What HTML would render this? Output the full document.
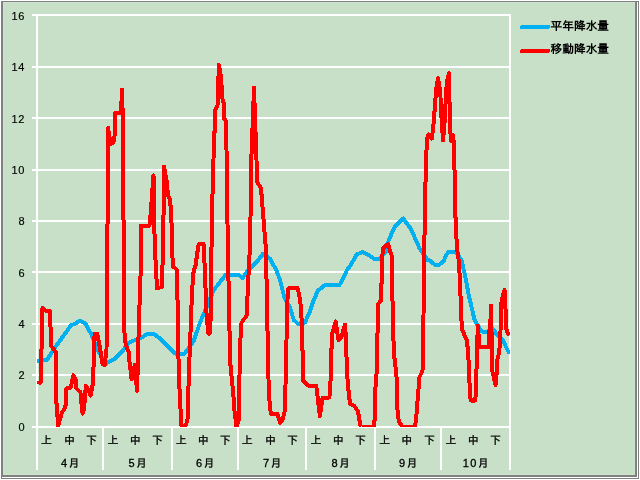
<!DOCTYPE html>
<html lang="ja"><head><meta charset="utf-8"><title>降水量</title>
<style>html,body{margin:0;padding:0;background:#fff;overflow:hidden}svg{display:block}text{font-family:"Liberation Sans","IPAGothic","Noto Sans CJK JP",sans-serif;font-size:12px;fill:#000}.j{font-family:"Liberation Sans","IPAGothic","Noto Sans CJK JP",sans-serif}text{stroke:#000;stroke-width:0.3px}.y{font-size:11px;letter-spacing:0.8px;stroke-width:.15px}.m{letter-spacing:1.4px;font-size:11px}.c{font-size:11px}.lg{font-weight:bold;font-size:11.7px;stroke:none}</style></head><body>
<svg width="640" height="480" viewBox="0 0 640 480">
<rect x="0" y="0" width="640" height="480" fill="#fff"/>
<rect x="1" y="1" width="638" height="478" fill="#808080"/>
<rect x="2" y="477" width="636" height="1" fill="#fff"/>
<rect x="637" y="2" width="1" height="476" fill="#fff"/>
<rect x="3" y="2" width="632" height="473" fill="#c8dfc8"/>
<rect x="3.5" y="2.5" width="631" height="472" fill="none" stroke="#cde5cd" stroke-width="1"/>
<g fill="#fff" shape-rendering="crispEdges">
<rect x="32" y="14" width="479" height="2"/>
<rect x="32" y="66" width="479" height="2"/>
<rect x="32" y="117" width="479" height="2"/>
<rect x="32" y="169" width="479" height="2"/>
<rect x="32" y="220" width="479" height="2"/>
<rect x="32" y="271" width="479" height="2"/>
<rect x="32" y="323" width="479" height="2"/>
<rect x="32" y="374" width="479" height="2"/>
<rect x="32" y="426" width="479" height="2"/>
<rect x="36" y="14" width="2" height="456"/>
<rect x="102" y="426" width="2" height="44"/>
<rect x="171" y="426" width="2" height="44"/>
<rect x="237" y="426" width="2" height="44"/>
<rect x="305" y="426" width="2" height="44"/>
<rect x="374" y="426" width="2" height="44"/>
<rect x="440" y="426" width="2" height="44"/>
<rect x="509" y="14" width="2" height="456"/>
</g>
<clipPath id="pc"><rect x="37" y="10" width="473" height="417"/></clipPath>
<g clip-path="url(#pc)">
<polyline points="38.1,361 46.9,360 56.25,345.6 65.6,333 70.6,325.6 76.25,323 80,320.6 85.6,323.75 91.25,334.4 98.75,352 103,359 107.5,362.5 115,358.75 123.75,349.4 128.75,343 133.75,340.6 142.5,337 147.5,333.75 153.75,333.75 158.75,337.5 167.5,346 176.25,354.4 183.75,354.4 187.5,350 193.75,341 200,322.5 203.75,313.75 213.75,290 220,282 225.6,275 238.75,275 242.5,278 247.5,271 257.5,261 263,253.75 270,258.75 276.25,270 280,280 284.4,297.5 290,307.5 293.75,320 298,323.75 305,322.5 309.4,312.5 313.75,300 318,290.6 325,285 339.4,285 343.75,277.5 346.9,270 350,266 356.9,254.4 362.5,252 367.5,254.4 375,259.4 379.4,259.4 386.25,251 388.75,240 395,226.25 403.1,218.5 410,227.5 415,238 419.4,248 422.5,252.5 427.5,260 430,260.6 435,265 438.75,265 443.75,261 445.6,256 448.75,251.5 455,251.5 461.25,259.5 465,275 468.75,295 471.9,308.5 474.4,319 477.5,325 481,330.5 483,331.7 487,331.7 490.5,329 493.5,329.5 497.5,335.5 502.5,339.5 505,345 508.5,352" fill="none" stroke="#00b0f0" stroke-width="4" stroke-linejoin="round" stroke-linecap="round" shape-rendering="crispEdges"/>
<polyline points="38.8,382.5 40.7,382.5 42.5,308 44.7,310.5 49.8,310.5 50.6,329 51.2,346 55.6,352 56.4,402 58.2,425.5 61.9,412.5 64.2,409.5 65.6,405 65.7,390 67,388.2 70.8,387.5 73.4,375.3 75.6,380 76.3,388.5 80.2,392 81.2,396 81.8,411 82.8,413.5 84.2,408 85,395 85.9,386 88.5,390 90.6,395.5 93,383 94.6,334 97.2,334 100,348 102.4,364 104.6,365 106.5,350 108.3,128 108.6,132 110.8,144 113.3,142.5 114.9,134 115.1,113 121,113 122,89.5 122.6,111 123,150 123.3,200 124,265 124.3,330 125,341 126,345 127.5,349.5 129,353 129.3,360 130,366 131.6,379.5 134.8,365 137,391 137.6,372 138,355 139,320 141,262 140.8,225.6 149.4,225.6 150.5,215 153.5,175.5 154.4,230 155,250 157,288.5 161.7,287 163.1,250 163.7,200 164,166.6 166.5,180 168,195 170.2,200 171.9,230 172.7,266 177,270 177.7,310 178.7,370 180,400 181.5,426 185.5,426 187.5,420 188.1,400 189,370 191,320 191.25,310 193.1,273.75 195.6,265 198.3,246 199,244 203.5,244 204,250 205.6,290 206.25,310 208.3,333.5 209.7,333.5 211.25,310 211.3,260 212.2,205 213.5,160 213.9,133 215.1,131 215.2,110 217.4,106 218.2,98 218.3,80 218.9,70 219,65 220.5,74 221.5,85 222,97 223.6,103 223.8,118 226.2,121.5 226.5,150 227.2,190 227.75,250 229,300 230,360 231.9,380 233.1,391 234.4,410 236.5,426.5 238.75,420 239.75,360 241,324 242.8,320.5 246.3,316.5 247,313 247.3,300 250,245 251,190 251.3,160 254,87.8 256.5,160 257,182 261,188 266,250 266.9,300 268.1,360 268.75,390 270,407.5 271,413.75 277.5,413.75 280,423 282.5,420 285,410 286,360 287.5,300 288,289 289,288 297.5,288 299.4,296 301.25,310 301.9,330 303.1,370 303.3,381 308,385.6 316.25,385.6 319.9,416.3 322.5,398 329.4,397.5 330.6,380 331.9,335 335.6,321.5 338.5,340 341,338 345,324.5 346,340 346.9,370 348,386 350,403.75 354.4,406 358,411.5 360.3,425 361.5,426.5 373.5,426.5 375,417.5 375.6,382.5 376.9,370 377.9,310 378.3,304 380.6,301 381.3,290 382.25,260 382.75,248.75 385.6,245.6 388,244 390.6,252.5 391.9,256 392.25,290 392.75,310 393.75,350 395,363.75 396,370 396.9,382.5 397.5,410 398.75,421 402,426.5 415,426.5 416.25,417.5 418,395 419.5,377 422,372 423,368 423.75,290 425,200 426,165 426.9,138.75 428.5,134.5 431.9,138.5 433.9,120 436.1,90 438,78 440.2,91 441.5,117.5 443,140.5 445,117.5 446,92 447.3,80 449,73 449.4,97.5 450.2,130 451.2,141 453.3,135.5 453.9,150 454.2,168 454.9,172 455,215 455.8,219 456,237 457,241 457.2,251 458.2,255 459.3,270 460,280 461,310 461.9,328.75 464.4,335 466.9,340 468.1,352.5 469,370 470,395 470.8,400.5 475.4,400.5 476,385 476.3,373 477,360 477.5,335 477.9,326 478.6,335 479.5,347 489,347 489.3,331 490.3,328 490.8,306 491.2,306 491.5,331 492,349 492.3,371 495.6,385 497,370 497.3,360 498.2,356 499.2,353 500,340 500.5,331 501,320 501,305 502,300 503,294.5 504.5,290 505,295 505.3,308 506,312 506,328 508,334" fill="none" stroke="#ff0000" stroke-width="4" shape-rendering="crispEdges" stroke-linejoin="round" stroke-linecap="round"/>
</g>
<text class="y" x="25.3" y="19.9" text-anchor="end">16</text>
<text class="y" x="25.3" y="70.9" text-anchor="end">14</text>
<text class="y" x="25.3" y="122.9" text-anchor="end">12</text>
<text class="y" x="25.3" y="173.9" text-anchor="end">10</text>
<text class="y" x="25.3" y="224.9" text-anchor="end">8</text>
<text class="y" x="25.3" y="276.9" text-anchor="end">6</text>
<text class="y" x="25.3" y="327.9" text-anchor="end">4</text>
<text class="y" x="25.3" y="378.9" text-anchor="end">2</text>
<text class="y" x="25.3" y="430.9" text-anchor="end">0</text>
<text class="j c" x="46.4" y="444" text-anchor="middle">上</text>
<text class="j c" x="69.5" y="444" text-anchor="middle">中</text>
<text class="j c" x="91.5" y="444" text-anchor="middle">下</text>
<text class="j m" x="71.0" y="466.6" text-anchor="middle">4<tspan class="c">月</tspan></text>
<text class="j c" x="112.9" y="444" text-anchor="middle">上</text>
<text class="j c" x="135.2" y="444" text-anchor="middle">中</text>
<text class="j c" x="157.4" y="444" text-anchor="middle">下</text>
<text class="j m" x="138.5" y="466.6" text-anchor="middle">5<tspan class="c">月</tspan></text>
<text class="j c" x="181.3" y="444" text-anchor="middle">上</text>
<text class="j c" x="203.3" y="444" text-anchor="middle">中</text>
<text class="j c" x="225.3" y="444" text-anchor="middle">下</text>
<text class="j m" x="206.0" y="466.6" text-anchor="middle">6<tspan class="c">月</tspan></text>
<text class="j c" x="247.3" y="444" text-anchor="middle">上</text>
<text class="j c" x="270.4" y="444" text-anchor="middle">中</text>
<text class="j c" x="292.5" y="444" text-anchor="middle">下</text>
<text class="j m" x="273.0" y="466.6" text-anchor="middle">7<tspan class="c">月</tspan></text>
<text class="j c" x="315.9" y="444" text-anchor="middle">上</text>
<text class="j c" x="338.2" y="444" text-anchor="middle">中</text>
<text class="j c" x="360.4" y="444" text-anchor="middle">下</text>
<text class="j m" x="341.5" y="466.6" text-anchor="middle">8<tspan class="c">月</tspan></text>
<text class="j c" x="384.8" y="444" text-anchor="middle">上</text>
<text class="j c" x="406.8" y="444" text-anchor="middle">中</text>
<text class="j c" x="429.5" y="444" text-anchor="middle">下</text>
<text class="j m" x="409.0" y="466.6" text-anchor="middle">9<tspan class="c">月</tspan></text>
<text class="j c" x="450.9" y="444" text-anchor="middle">上</text>
<text class="j c" x="473.2" y="444" text-anchor="middle">中</text>
<text class="j c" x="495.4" y="444" text-anchor="middle">下</text>
<text class="j m" x="476.5" y="466.6" text-anchor="middle">10<tspan class="c">月</tspan></text>
<line x1="522" y1="27" x2="548" y2="27" stroke="#00b0f0" stroke-width="4" stroke-linecap="round" shape-rendering="crispEdges"/>
<line x1="522" y1="51" x2="548" y2="51" stroke="#ff0000" stroke-width="4" stroke-linecap="round" shape-rendering="crispEdges"/>
<text class="j lg" x="550.6" y="30.2">平年降水量</text>
<text class="j lg" x="550.6" y="53.2">移動降水量</text>
</svg></body></html>
